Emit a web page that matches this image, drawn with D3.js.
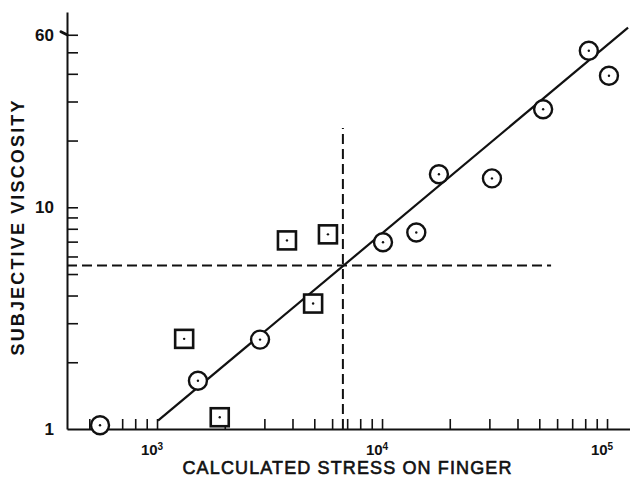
<!DOCTYPE html>
<html>
<head>
<meta charset="utf-8">
<script src="https://cdn.jsdelivr.net/npm/d3@7"></script>
<style>
  body { margin: 0; background: #fff; }
  svg { display: block; }
  text { font-family: "Liberation Sans", Arial, sans-serif; fill: #111; }
</style>
</head>
<body>
<div id="chart"></div>
<script>
// circles
var circleStress = [558, 1520, 2870, 10100, 14200, 17900, 30800, 52000, 83000, 102000];
var circleVisc = [1.04, 1.65, 2.53, 6.95, 7.7, 14.1, 13.5, 27.7, 50.8, 39.2];
// squares
var squareStress = [1320, 1900, 3780, 4940, 5750];
var squareVisc = [2.55, 1.13, 7.09, 3.68, 7.55];
// fitted line end points
var fitStress = [1010, 124000];
var fitVisc = [1.09, 64.6];
// dashed guide lines
var guideStress = 6700;
var guideVisc = 5.47;
var guideVTop = 22.8;
var guideHRight = 56400;

var xLabelTicks = [1e3, 1e4, 1e5];
var xLabelExp = ["3", "4", "5"];
var yLabelTicks = [1, 10, 60];
var xMinorTicks = [5e2, 6e2, 7e2, 8e2, 9e2, 1e3, 2e3, 3e3, 4e3, 5e3, 6e3, 7e3, 8e3, 9e3,
  1e4, 2e4, 3e4, 4e4, 5e4, 6e4, 7e4, 8e4, 9e4, 1e5];
var yMinorTicks = [2, 3, 4, 5, 6, 7, 8, 9, 10, 20, 30, 40, 50, 60];

var W = 630, H = 480;
var x = d3.scaleLog().domain([398, 126500]).range([67, 630]);
var y = d3.scaleLog().domain([1, 76]).range([429, 12]);

var svg = d3.select("#chart").append("svg")
  .attr("width", W).attr("height", H);
svg.append("rect").attr("width", W).attr("height", H).attr("fill", "#fff");

// axes with inward ticks
var gx = svg.append("g")
  .attr("transform", "translate(0," + y(1) + ")")
  .call(d3.axisBottom(x).tickValues(xMinorTicks).tickSize(-10).tickSizeOuter(0).tickFormat(""));
var gy = svg.append("g")
  .attr("transform", "translate(" + x(398) + ",0)")
  .call(d3.axisLeft(y).tickValues(yMinorTicks).tickSize(-11).tickSizeOuter(0).tickFormat(""));
svg.selectAll(".domain").attr("stroke", "#111").attr("stroke-width", 2);
svg.selectAll(".tick line").attr("stroke", "#111").attr("stroke-width", 1.6);

// small blob at 60
svg.append("line")
  .attr("x1", x(398) - 6).attr("x2", x(398))
  .attr("y1", y(60) - 3).attr("y2", y(60))
  .attr("stroke", "#111").attr("stroke-width", 3).attr("stroke-linecap", "round");

// y tick labels
svg.selectAll(".ylab").data(yLabelTicks).enter().append("text")
  .attr("x", 54)
  .attr("y", function (d) { return y(d) + 6; })
  .attr("text-anchor", "end")
  .style("font-size", "17px").style("font-weight", "bold")
  .text(function (d) { return d; });

// x tick labels with exponent
var xl = svg.selectAll(".xlab").data(xLabelTicks).enter().append("text")
  .attr("x", function (d) { return x(d) - 5; })
  .attr("y", 455)
  .attr("text-anchor", "middle")
  .style("font-size", "15px").style("font-weight", "bold");
xl.append("tspan").text("10");
xl.append("tspan")
  .attr("dy", -5)
  .style("font-size", "10px")
  .text(function (d, i) { return xLabelExp[i]; });

// axis titles
svg.append("text")
  .attr("x", 347).attr("y", 474)
  .attr("text-anchor", "middle")
  .style("font-size", "18px")
  .attr("stroke", "#111").attr("stroke-width", 0.6)
  .attr("textLength", 329)
  .text("CALCULATED STRESS ON FINGER");
svg.append("text")
  .attr("transform", "translate(24,228) rotate(-90)")
  .attr("text-anchor", "middle")
  .style("font-size", "18px").style("font-weight", "bold")
  .attr("textLength", 255)
  .text("SUBJECTIVE VISCOSITY");

// dashed guides
svg.append("line")
  .attr("x1", x(guideStress)).attr("x2", x(guideStress))
  .attr("y1", y(1)).attr("y2", y(guideVTop))
  .attr("stroke", "#111").attr("stroke-width", 2).attr("stroke-dasharray", "10,5");
svg.append("line")
  .attr("x1", x(398)).attr("x2", x(guideHRight))
  .attr("y1", y(guideVisc)).attr("y2", y(guideVisc))
  .attr("stroke", "#111").attr("stroke-width", 2).attr("stroke-dasharray", "10,5");

// fitted line
svg.append("line")
  .attr("x1", x(fitStress[0])).attr("y1", y(fitVisc[0]))
  .attr("x2", x(fitStress[1])).attr("y2", y(fitVisc[1]))
  .attr("stroke", "#111").attr("stroke-width", 2.2);

// circle markers
var cg = svg.selectAll(".circ").data(circleStress).enter().append("g")
  .attr("transform", function (d, i) { return "translate(" + x(d) + "," + y(circleVisc[i]) + ")"; });
cg.append("circle").attr("r", 9)
  .attr("fill", "#fff").attr("stroke", "#111").attr("stroke-width", 2.4);
cg.append("circle").attr("r", 1.2).attr("fill", "#111");

// square markers
var sg = svg.selectAll(".sq").data(squareStress).enter().append("g")
  .attr("transform", function (d, i) { return "translate(" + x(d) + "," + y(squareVisc[i]) + ")"; });
sg.append("rect").attr("x", -9).attr("y", -9).attr("width", 18).attr("height", 18)
  .attr("fill", "#fff").attr("stroke", "#111").attr("stroke-width", 2.6);
sg.append("circle").attr("r", 1.2).attr("fill", "#111");
</script>
</body>
</html>
